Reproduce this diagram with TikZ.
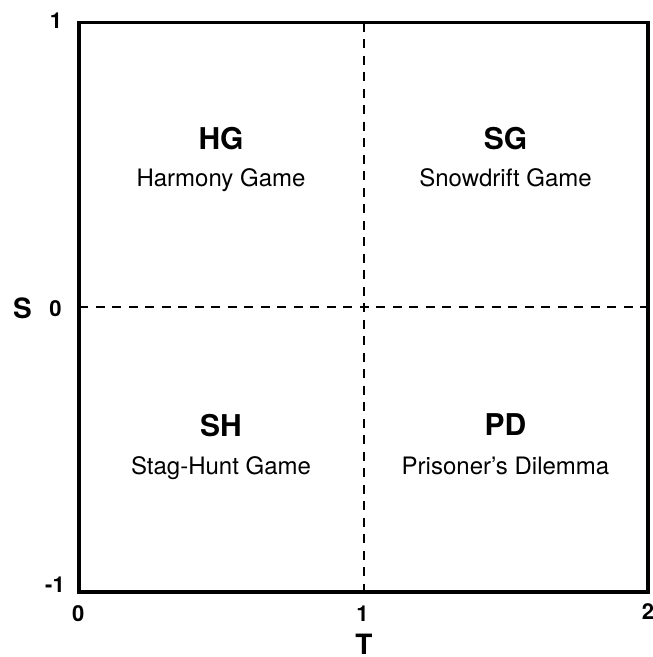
\documentclass[tikz,border=0pt]{standalone}
\usepackage{fontspec}
\setmainfont{TeX Gyre Heros}
\begin{document}
\begin{tikzpicture}[x=1pt,y=-1pt,
  frame/.style={line width=3.8pt,line join=miter},
  grid/.style={line width=2pt,dash pattern=on 9pt off 7.5pt},
  tick/.style={inner sep=0pt,font=\fontsize{22}{22}\selectfont\bfseries},
  axislbl/.style={inner sep=0pt,font=\fontsize{28}{28}\selectfont\bfseries},
  abbr/.style={inner sep=0pt,anchor=base,font=\fontsize{30}{30}\selectfont\bfseries},
  gname/.style={inner sep=0pt,anchor=base,font=\fontsize{24}{24}\selectfont}]
\useasboundingbox (0,0) rectangle (653,657);
\coordinate (tl) at (79,22.5);
\coordinate (br) at (648,592);
\coordinate (tm) at (363.5,22.5);
\coordinate (bm) at (363.5,592);
\coordinate (lm) at (79,307);
\coordinate (rm) at (648,307);
\draw[grid] (tm) -- (bm);
\draw[grid] (lm) -- (rm);
\draw[frame] (tl) rectangle (br);
% ticks
\node[tick] (s1) at (56,20.5) {1};
\node[tick] (s0) at (55.5,308.5) {0};
\node[tick] (sm1) at (55,585) {-1};
\node[tick] (t0) at (78.3,614) {0};
\node[tick] (t1) at (362.5,613.3) {1};
\node[tick] (t2) at (648,612) {2};
\node[axislbl] (S) at (22.5,308.3) {S};
\node[axislbl] (T) at (364,644) {T};
% quadrants
\node[abbr] (hg) at (221,149.3) {HG};
\node[gname] (hgn) at (221,186.7) {Harmony Game};
\node[abbr] (sg) at (505.5,149.3) {SG};
\node[gname] (sgn) at (505.5,186.7) {Snowdrift Game};
\node[abbr] (sh) at (221,436.5) {SH};
\node[gname] (shn) at (221,474.5) {Stag-Hunt Game};
\node[abbr] (pd) at (505.5,435.5) {PD};
\node[gname] (pdn) at (505.5,474) {Prisoner’s Dilemma};
\end{tikzpicture}
\end{document}
